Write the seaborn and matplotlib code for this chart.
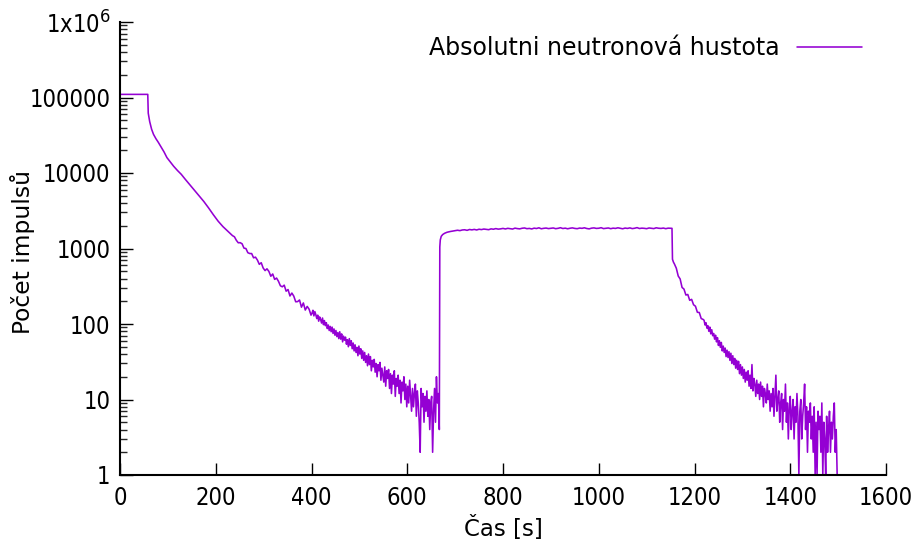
import numpy as np
import pandas as pd
import matplotlib
matplotlib.use('Agg')
import matplotlib.pyplot as plt
from matplotlib.ticker import FixedLocator, LogLocator, NullFormatter
import seaborn as sns

###############################################################################
# Data
###############################################################################
LABEL = 'Absolutni neutronová hustota'
# Steady state before the drop -------------------------------------------------
flatT = [0, 10, 20, 30, 40, 50, 58]
flatN = [110000, 110000, 110000, 110000, 110000, 110000, 110000]
# First decay, smooth part -----------------------------------------------------
dec1T = [59, 62, 66, 70, 75, 80, 86, 92, 98, 105, 112, 120, 128, 136, 145,
         155, 165, 175, 185, 195, 205, 215, 225, 235]
dec1N = [62000, 48000, 38000, 32500, 28500, 25500, 22000, 19000, 16000,
         14000, 12300, 10800, 9600, 8300, 7100, 6000, 5000, 4200, 3450, 2800,
         2300, 1950, 1700, 1480]
# First decay, light noise (every 4 s from 239 s) ------------------------------
(noi1aT0, noi1aDt) = (239, 4)
noi1aN = [
    1430, 1285, 1190, 1195, 1155, 1010, 1000, 880, 858, 857,
    753, 768, 703, 617, 648, 552, 510, 538, 497, 429,
    460, 390, 406, 368, 321, 311, 327, 272, 286, 235,
    257, 234, 197, 198, 208, 167, 190, 153, 171, 157,
    131
]
# First decay, heavy noise (every 2 s from 401 s) ------------------------------
(noi1bT0, noi1bDt) = (401, 2)
noi1bN = [
    139, 152, 128, 146, 133, 118, 131, 109, 124, 115,
    103, 120, 98, 111, 95, 104, 87, 97, 82, 93,
    79, 91, 75, 86, 71, 82, 68, 77, 64, 79,
    63, 74, 58, 69, 61, 67, 54, 62, 50, 64,
    52, 60, 47, 56, 44, 53, 42, 49, 38, 51,
    40, 47, 35, 44, 33, 42, 31, 38, 28, 40,
    29, 37, 24, 33, 27, 34, 23, 30, 20, 29,
    24, 31, 18, 26, 21, 17, 27, 15, 24, 19,
    25, 14, 22, 12, 21, 16, 24, 11, 19, 15,
    21, 12, 18, 9, 17, 13, 20, 10, 16, 8,
    15, 9, 18, 11, 7, 14, 8, 12, 16, 6,
    13, 9, 5, 2, 14, 8, 12, 5, 11, 7,
    13, 6, 10, 4, 9, 11, 2, 7, 14, 5,
    20, 9, 12, 4
]
# Rise to the plateau ----------------------------------------------------------
riseT = [668, 669, 671, 674, 678, 683, 690, 697]
riseN = [1050, 1300, 1450, 1530, 1590, 1640, 1680, 1710]
# Plateau (every 5 s from 705 s) -----------------------------------------------
(platT0, platDt) = (705, 5)
platN = [
    1745, 1725, 1760, 1770, 1740, 1785, 1765, 1790, 1760, 1800,
    1780, 1810, 1790, 1775, 1820, 1800, 1835, 1805, 1820, 1845,
    1815, 1850, 1830, 1810, 1860, 1835, 1820, 1855, 1870, 1830,
    1845, 1815, 1860, 1840, 1880, 1825, 1850, 1865, 1835, 1855,
    1870, 1830, 1850, 1885, 1840, 1860, 1825, 1855, 1875, 1845,
    1830, 1865, 1850, 1880, 1840, 1820, 1860, 1875, 1845, 1855,
    1885, 1835, 1850, 1870, 1830, 1860, 1845, 1880, 1850, 1825,
    1865, 1845, 1875, 1835, 1855, 1890, 1840, 1860, 1850, 1830,
    1870, 1850, 1835, 1880, 1855, 1845, 1865, 1830, 1860, 1850
]
# Drop at shutdown -------------------------------------------------------------
dropT = [1153, 1154, 1156]
dropN = [1850, 720, 660]
# Second decay, light noise (every 4 s from 1158 s) ----------------------------
(noi2aT0, noi2aDt) = (1158, 4)
noi2aN = [625, 548, 432, 395, 305, 290, 242, 246, 206, 212,
          180, 172, 143, 142, 118, 115]
# Second decay, heavy noise (every 2 s from 1220 s) ----------------------------
(noi2bT0, noi2bDt) = (1220, 2)
noi2bN = [
    112, 97, 104, 88, 95, 80, 91, 74, 84, 70,
    75, 63, 71, 58, 66, 52, 60, 49, 57, 44,
    51, 42, 48, 37, 45, 36, 43, 33, 41, 30,
    38, 29, 35, 26, 33, 25, 32, 22, 29, 21,
    27, 19, 25, 17, 23, 18, 24, 15, 21, 14,
    29, 13, 19, 16, 11, 18, 12, 16, 10, 17,
    11, 15, 8, 14, 12, 9, 16, 10, 13, 7,
    12, 8, 14, 6, 11, 21, 7, 10, 13, 5,
    9, 12, 4, 10, 7, 16, 5, 9, 3, 8,
    11, 4, 7, 10, 3, 8, 5, 12, 6, 1,
    7, 10, 3, 6, 9, 16, 4, 8, 2, 7,
    5, 9, 3, 6, 2, 8, 1, 5, 1, 7,
    4, 6, 2, 9, 1, 5, 3, 1, 6, 2,
    4, 7, 2, 5, 3, 6, 9, 2, 4, 1
]


def sampled(t0, dt, vals):
    return t0 + dt*np.arange(len(vals))


DATA = pd.DataFrame({
    't': np.concatenate([
        flatT, dec1T, sampled(noi1aT0, noi1aDt, noi1aN),
        sampled(noi1bT0, noi1bDt, noi1bN), riseT,
        sampled(platT0, platDt, platN), dropT,
        sampled(noi2aT0, noi2aDt, noi2aN), sampled(noi2bT0, noi2bDt, noi2bN)
    ]),
    'n': np.concatenate([
        flatN, dec1N, noi1aN, noi1bN, riseN, platN, dropN, noi2aN, noi2bN
    ]).astype(float)
})
###############################################################################
# Plot
###############################################################################
sns.set_style('ticks')
plt.rcParams['font.family'] = ['DejaVu Sans']
plt.rcParams['text.color'] = 'black'
plt.rcParams['axes.labelcolor'] = 'black'
FS = 17
fig = plt.figure(figsize=(9.18, 5.46), dpi=100)
ax = fig.add_axes([120/918, 71/546, 766/918, 453/546])
sns.lineplot(
    data=DATA, x='t', y='n', ax=ax, estimator=None, sort=False,
    color='#9400d3', lw=1.15, label=LABEL
)
ax.set_yscale('log')
ax.set_xlim(0, 1600)
ax.set_ylim(1, 1e6)
ax.set_xticks(range(0, 1601, 200))
ax.yaxis.set_major_locator(FixedLocator([1, 10, 100, 1e3, 1e4, 1e5, 1e6]))
ax.set_yticklabels(['1', '10', '100', '1000', '10000', '100000', r'1x10$^6$'])
ax.yaxis.set_minor_locator(LogLocator(base=10, subs=np.arange(2, 10), numticks=20))
ax.yaxis.set_minor_formatter(NullFormatter())
ax.tick_params(which='major', direction='in', length=9, width=1.0,
               labelsize=FS, colors='black')
ax.tick_params(axis='y', which='major', pad=7)
ax.tick_params(axis='x', which='major', pad=8)
ax.tick_params(which='minor', direction='in', length=5, width=1.0)
for lbl in ax.get_xticklabels() + ax.get_yticklabels():
    lbl.set_fontstretch('condensed')
sns.despine(ax=ax)
for s in ['left', 'bottom']:
    ax.spines[s].set_linewidth(1.5)
    ax.spines[s].set_color('black')
ax.set_xlabel('Čas [s]', fontsize=16.5, color='black')
ax.set_ylabel('Počet impulsů', fontsize=16.8, color='black')
ax.xaxis.set_label_coords(0.5, (475 - 516)/453)
ax.yaxis.set_label_coords((35 - 120)/766, (475 - 251.5)/453)
leg = ax.legend(
    loc='center right', bbox_to_anchor=(871/918, 1 - 48/546),
    bbox_transform=fig.transFigure, borderaxespad=0, frameon=False,
    markerfirst=False, handlelength=2.75, handletextpad=0.7, fontsize=FS
)
for txt in leg.get_texts():
    txt.set_color('black')
fig.savefig('out.png', dpi=100)
